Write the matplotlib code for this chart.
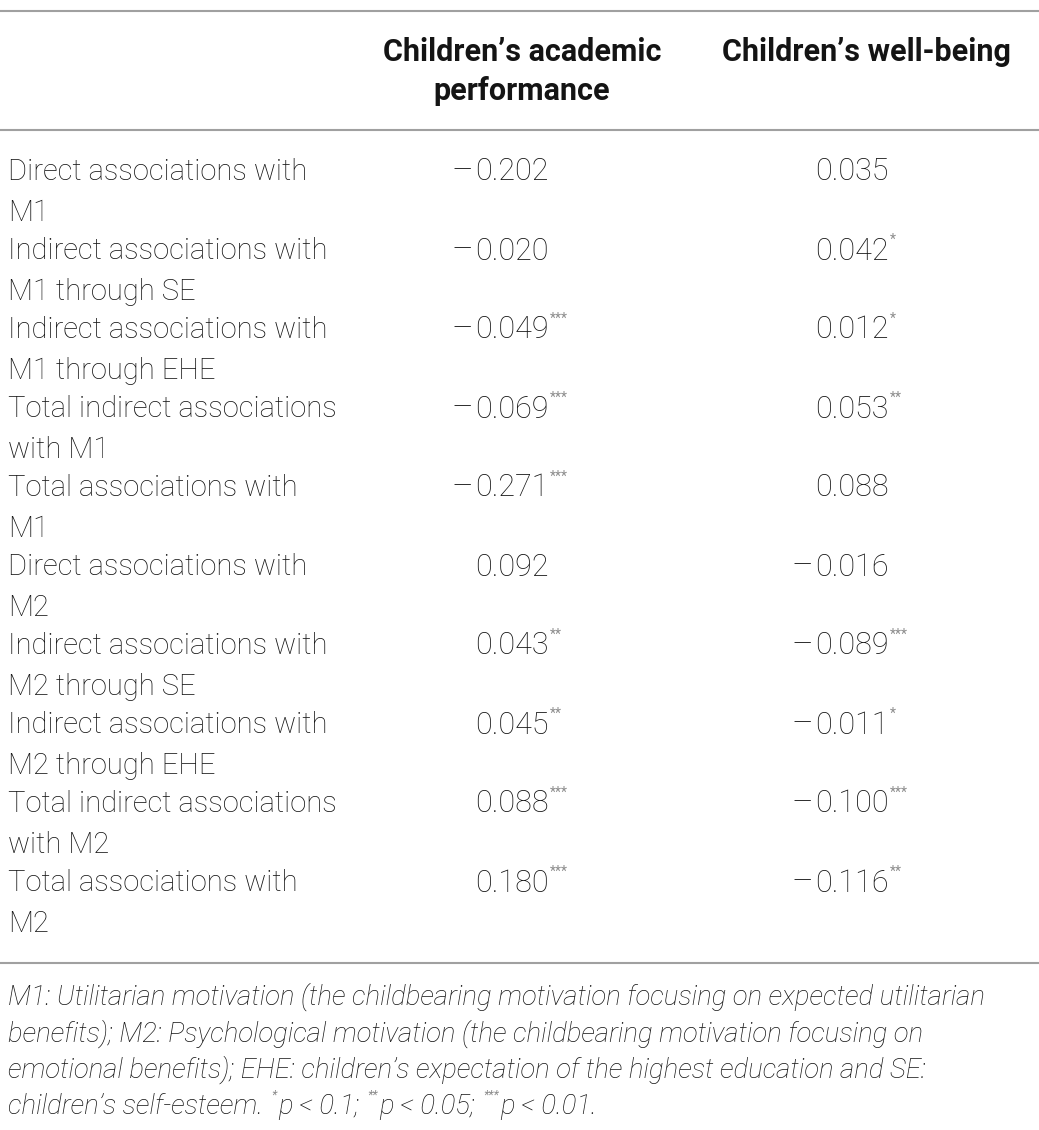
"""Mediation effects table: children's academic performance and well-being."""

import matplotlib

matplotlib.use("Agg")
import matplotlib.pyplot as plt

COLUMNS = ["Children\u2019s academic\nperformance", "Children\u2019s well-being"]
ROW_LABELS = [
    "Direct associations with\nM1",
    "Indirect associations with\nM1 through SE",
    "Indirect associations with\nM1 through EHE",
    "Total indirect associations\nwith M1",
    "Total associations with\nM1",
    "Direct associations with\nM2",
    "Indirect associations with\nM2 through SE",
    "Indirect associations with\nM2 through EHE",
    "Total indirect associations\nwith M2",
    "Total associations with\nM2",
]
ACADEMIC = [-0.202, -0.020, -0.049, -0.069, -0.271, 0.092, 0.043, 0.045, 0.088, 0.180]
ACADEMIC_STARS = ["", "", "***", "***", "***", "", "**", "**", "***", "***"]
WELLBEING = [0.035, 0.042, 0.012, 0.053, 0.088, -0.016, -0.089, -0.011, -0.100, -0.116]
WELLBEING_STARS = ["", "*", "*", "**", "", "", "***", "*", "***", "**"]
FOOTNOTE = [
    "M1: Utilitarian motivation (the childbearing motivation focusing on expected utilitarian",
    "benefits); M2: Psychological motivation (the childbearing motivation focusing on",
    "emotional benefits); EHE: children\u2019s expectation of the highest education and SE:",
]
FOOTNOTE_LAST = [("", "children\u2019s self-esteem. "), ("*", "p < 0.1; "), ("**", "p < 0.05; "),
                 ("***", "p < 0.01.")]

W, H = 1039, 1130
TEXT = "#141414"
STAR = "#8c8c8c"
RULE = "#a0a0a0"
FONT = ["Roboto", "DejaVu Sans"]
BODY = 21
VALUE = 22
HEAD = 22
NOTE = 19.8

fig = plt.figure(figsize=(W / 100, H / 100), dpi=100)
ax = fig.add_axes([0, 0, 1, 1])
ax.set_xlim(0, W)
ax.set_ylim(H, 0)
ax.axis("off")
renderer = fig.canvas.get_renderer()


def right_edge(artist):
    return artist.get_window_extent(renderer).x1


for y in (11, 130, 963):
    ax.plot([0, W], [y, y], color=RULE, linewidth=1.5, solid_capstyle="butt")

# header
col_centers = [522, 866]
for cx, head in zip(col_centers, COLUMNS):
    for i, line in enumerate(head.split("\n")):
        ax.text(cx, 52 + i * 39, line, ha="center", va="center", fontsize=HEAD,
                fontweight="bold", family=FONT, color=TEXT)

# rows
row_y0, row_step, line_step = 172, 79, 41
digit_x = [475, 815]


def put_value(x, y, value, stars):
    t = ax.text(x, y, f"{abs(value):.3f}", ha="left", va="center", fontsize=VALUE,
                fontweight="light", family=FONT, color=TEXT)
    if value < 0:
        ax.text(x - 2, y, "\u2013", ha="right", va="center", fontsize=VALUE + 2,
                fontweight="light", family=FONT, color=TEXT)
    if stars:
        ax.text(right_edge(t) + 1, y - 4, stars, ha="left", va="bottom", fontsize=10,
                color=STAR, family=FONT)


for i, label in enumerate(ROW_LABELS):
    y = row_y0 + i * row_step
    for j, line in enumerate(label.split("\n")):
        ax.text(8, y + j * line_step, line, ha="left", va="center", fontsize=BODY,
                fontweight="light", family=FONT, color=TEXT)
    put_value(digit_x[0], y, ACADEMIC[i], ACADEMIC_STARS[i])
    put_value(digit_x[1], y, WELLBEING[i], WELLBEING_STARS[i])

# footnote
note_y0, note_step = 997, 36.5
for i, line in enumerate(FOOTNOTE):
    ax.text(8, note_y0 + i * note_step, line, ha="left", va="center", fontsize=NOTE,
            style="italic", fontweight="light", family=FONT, color=TEXT)

y = note_y0 + 3 * note_step
x = 8
for stars, rest in FOOTNOTE_LAST:
    if stars:
        s = ax.text(x + 2, y - 5, stars, ha="left", va="bottom", fontsize=9,
                    style="italic", color=STAR, family=FONT)
        x = right_edge(s) + 1
    t = ax.text(x, y, rest, ha="left", va="center", fontsize=NOTE, style="italic",
                fontweight="light", family=FONT, color=TEXT)
    x = right_edge(t)

fig.savefig("out.png", dpi=100)
